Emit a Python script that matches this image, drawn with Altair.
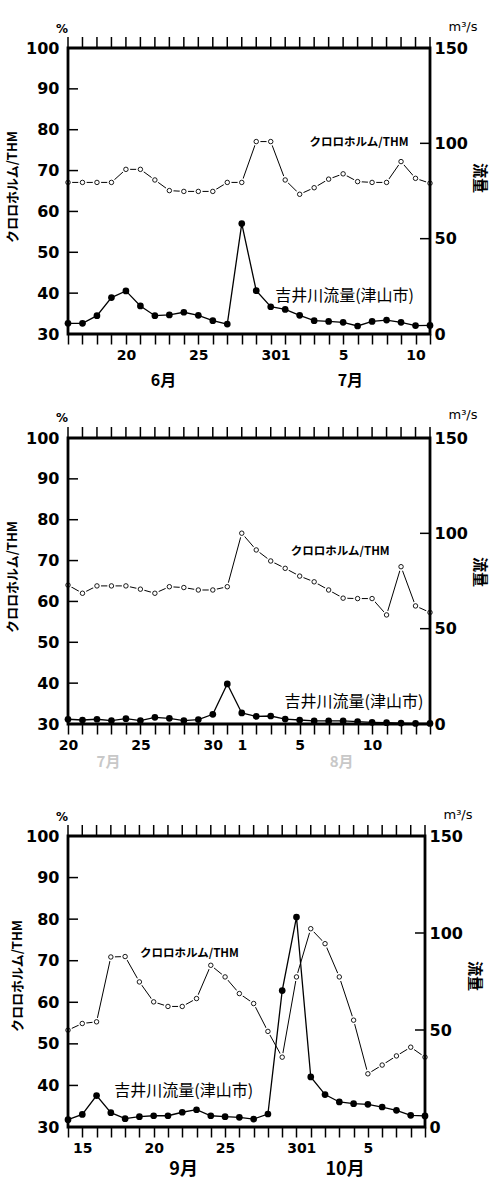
import altair as alt
import pandas as pd

# ---------------- data ----------------
# Panel 1 : 6/16 - 7/11
P1_TICKS = ["", "", "", "", "20", "", "", "", "", "25", "", "", "", "", "30", "1",
            "", "", "", "5", "", "", "", "", "10", ""]
P1_THM = [67.1, 67.1, 67.1, 67.1, 70.3, 70.3, 67.7, 65.1, 64.9, 64.9, 64.9, 67.1, 67.1,
          77.1, 77.1, 67.7, 64.2, 65.8, 67.9, 69.2, 67.3, 67.1, 67.1, 72.2, 68.1, 66.9]
P1_FLOW = [5.6, 5.6, 9.6, 19.1, 22.6, 14.7, 9.6, 10.0, 11.4, 9.8, 7.0, 5.2, 57.9,
           22.7, 14.3, 12.9, 9.8, 7.0, 6.6, 6.1, 4.2, 6.6, 7.3, 6.1, 4.4, 4.5]
P1_MONTHS = ["6月", "7月"]

# Panel 2 : 7/20 - 8/14
P2_TICKS = ["20", "", "", "", "", "25", "", "", "", "", "30", "", "1", "", "", "",
            "5", "", "", "", "", "10", "", "", "", ""]
P2_THM = [64.0, 62.0, 63.8, 63.8, 63.8, 63.0, 62.0, 63.6, 63.4, 62.8, 62.8, 63.6, 76.7,
          72.6, 69.9, 68.1, 66.2, 64.8, 62.8, 60.8, 60.7, 60.7, 56.7, 68.5, 58.9, 57.3]
P2_FLOW = [2.5, 2.1, 2.5, 1.8, 2.8, 1.8, 3.5, 3.0, 1.8, 2.3, 5.1, 21.0, 5.8,
           4.0, 4.2, 2.6, 2.1, 1.6, 1.6, 1.6, 1.2, 0.9, 0.7, 0.5, 0.3, 0.3]
P2_MONTHS = ["7月", "8月"]

# Panel 3 : 9/14 - 10/9
P3_TICKS = ["", "15", "", "", "", "", "20", "", "", "", "", "25", "", "", "", "",
            "30", "1", "", "", "", "5", "", "", "", ""]
P3_THM = [53.3, 54.9, 55.3, 70.9, 71.0, 64.9, 60.1, 59.0, 59.0, 60.9, 68.9, 66.1, 62.1,
          59.7, 53.0, 46.8, 66.1, 77.7, 74.1, 66.1, 55.7, 42.8, 44.9, 47.1, 49.2, 46.8]
P3_FLOW = [3.8, 6.5, 16.2, 7.4, 4.3, 5.3, 5.8, 5.8, 7.6, 8.9, 5.8, 5.3, 5.0,
           4.1, 6.7, 70.3, 108.2, 25.8, 16.7, 12.9, 12.0, 11.7, 10.3, 8.6, 6.0, 5.7]
P3_MONTHS = ["9月", "10月"]

LEFT_TICKS = [30, 40, 50, 60, 70, 80, 90, 100]
RIGHT_TICKS = [0, 50, 100, 150]
THM_NAME = "クロロホルム/THM"
FLOW_NAME = "吉井川流量(津山市)"
LEFT_TITLE = "クロロホルム/THM"
RIGHT_TITLE = "流量"

NUM_FONT = "DejaVu Sans"
JP_FONT = "Noto Sans CJK JP"


def one(**kw):
    return pd.DataFrame({k: [v] for k, v in kw.items()})


def panel(thm, flow, ticks, months, W, H, cfg, anchor=False):
    n = len(thm)
    idx = list(range(n))
    df = pd.DataFrame({"i": idx, "thm": thm, "flow": flow})
    expr = " : ".join(f"datum.value == {k} ? '{v}'" for k, v in enumerate(ticks) if v) + " : ''"
    x = alt.X("i:Q", scale=alt.Scale(domain=[0, n - 1], nice=False, zero=False),
              axis=alt.Axis(values=idx, labelExpr=expr, tickSize=10, tickWidth=1.5,
                            tickColor="black", domain=False, grid=False,
                            labelFont=NUM_FONT, labelFontWeight="bold", labelFontSize=14,
                            labelColor="black", labelPadding=4, labelOverlap=False,
                            labelFlush=False, title=None))
    yL = alt.Y("thm:Q", scale=alt.Scale(domain=[30, 100], nice=False, zero=False),
               axis=alt.Axis(values=LEFT_TICKS, ticks=False, domain=False, grid=False,
                             labelFont=NUM_FONT, labelFontWeight="bold", labelFontSize=16,
                             labelColor="black", labelPadding=9, labelFlush=False,
                             orient="left", title=None))
    yR = alt.Y("flow:Q", scale=alt.Scale(domain=[0, 150], nice=False, zero=False),
               axis=alt.Axis(values=RIGHT_TICKS, ticks=False, domain=False, grid=False,
                             labelFont=NUM_FONT, labelFontWeight="bold", labelFontSize=16,
                             labelColor="black", labelPadding=4, labelFlush=False,
                             orient="right", title=None))

    base = alt.Chart(df)
    left_layers = [
        base.mark_line(color="black", strokeWidth=1).encode(x=x, y=yL),
        base.mark_point(shape="circle", filled=True, color="white", size=70, opacity=1).encode(x=x, y=yL),
        base.mark_point(shape="circle", filled=True, fill="white", stroke="black",
                        strokeWidth=0.9, size=20, opacity=1).encode(x=x, y=yL),
        alt.Chart(one(i=cfg["thm_lab"][0], thm=cfg["thm_lab"][1], t=THM_NAME)).mark_text(
            font=JP_FONT, fontSize=11.5, fontWeight="bold", color="black").encode(x=x, y=yL, text="t:N"),
        alt.Chart(pd.DataFrame({"thm": LEFT_TICKS[1:-1]})).mark_rule(color="black", strokeWidth=1.5).encode(
            y=yL, x=alt.value(0), x2=alt.value(10)),
        alt.Chart(pd.DataFrame({"i": idx})).mark_rule(color="black", strokeWidth=1.5).encode(
            x=x, y=alt.value(-11), y2=alt.value(0)),
        alt.Chart(pd.DataFrame({"i": cfg["month_i"], "t": months})).mark_text(
            font=JP_FONT, fontSize=cfg["month_size"], fontWeight="bold",
            color=cfg["month_color"]).encode(x=x, y=alt.value(H + cfg["month_dy"]), text="t:N"),
        alt.Chart(one(t="%")).mark_text(font=NUM_FONT, fontSize=12, fontWeight="bold", color="black").encode(
            x=alt.value(-6), y=alt.value(cfg["pct_dy"]), text="t:N"),
        alt.Chart(one(t=LEFT_TITLE)).mark_text(font=JP_FONT, fontSize=13, fontWeight="bold", angle=270,
                                               baseline="middle", color="black").encode(
            x=alt.value(cfg["ltitle_dx"]), y=alt.value(cfg["ltitle_y"]), text="t:N"),
        alt.Chart(one(a=0)).mark_rect(fillOpacity=0, stroke="black", strokeWidth=2.8).encode(
            x=alt.value(0), x2=alt.value(W), y=alt.value(0), y2=alt.value(H)),
    ]
    if anchor:
        # invisible corner markers fixing the canvas extent (top-left and top-right)
        left_layers.append(alt.Chart(one(a=0)).mark_rect(color="white").encode(
            x=alt.value(-68), x2=alt.value(-67), y=alt.value(-48), y2=alt.value(-47)))
        left_layers.append(alt.Chart(one(a=0)).mark_rect(color="white").encode(
            x=alt.value(W + 61), x2=alt.value(W + 62), y=alt.value(-48), y2=alt.value(-47)))
    right_layers = [
        base.mark_line(color="black", strokeWidth=1.3).encode(x=x, y=yR),
        base.mark_point(shape="circle", filled=True, color="black", size=45, opacity=1).encode(x=x, y=yR),
        alt.Chart(one(i=cfg["flow_lab"][0], flow=cfg["flow_lab"][1], t=FLOW_NAME)).mark_text(
            font=JP_FONT, fontSize=16, color="black").encode(x=x, y=yR, text="t:N"),
        alt.Chart(pd.DataFrame({"flow": [50, 100]})).mark_rule(color="black", strokeWidth=1.5).encode(
            y=yR, x=alt.value(W - 10), x2=alt.value(W)),
        alt.Chart(one(t="m³/s")).mark_text(font=NUM_FONT, fontSize=13, color="black").encode(
            x=alt.value(W + 33), y=alt.value(cfg["unit_dy"]), text="t:N"),
        alt.Chart(one(t=RIGHT_TITLE)).mark_text(font=JP_FONT, fontSize=15, fontWeight="bold", angle=90,
                                                baseline="middle", color="black").encode(
            x=alt.value(W + cfg["rtitle_dx"]), y=alt.value(cfg["rtitle_y"]), text="t:N"),
    ]
    left = alt.layer(*left_layers)
    right = alt.layer(*right_layers)
    return alt.layer(left, right).resolve_scale(y="independent").properties(width=W, height=H)


def spacer(W, h):
    return alt.Chart(one(a=0)).mark_rect(opacity=0).encode(
        x=alt.value(0), y=alt.value(0)).properties(width=W, height=h)


p1 = panel(P1_THM, P1_FLOW, P1_TICKS, P1_MONTHS, 362, 286, dict(
    thm_lab=(20.1, 76.8), flow_lab=(19.1, 19.9), month_i=[6.6, 19.5], month_dy=47,
    month_size=16, month_color="black", pct_dy=-19, unit_dy=-21, ltitle_dx=-55,
    ltitle_y=139, rtitle_dx=50, rtitle_y=130), anchor=True)
p2 = panel(P2_THM, P2_FLOW, P2_TICKS, P2_MONTHS, 362, 286, dict(
    thm_lab=(18.8, 72.1), flow_lab=(19.75, 11.5), month_i=[2.8, 18.9], month_dy=38,
    month_size=15, month_color="#c8c8c8", pct_dy=-20, unit_dy=-23, ltitle_dx=-55,
    ltitle_y=139, rtitle_dx=50, rtitle_y=134))
p3 = panel(P3_THM, P3_FLOW, P3_TICKS, P3_MONTHS, 357, 291, dict(
    thm_lab=(8.5, 71.6), flow_lab=(8.1, 18.6), month_i=[8.1, 19.4], month_dy=43,
    month_size=18, month_color="black", pct_dy=-19, unit_dy=-21, ltitle_dx=-50,
    ltitle_y=140, rtitle_dx=50, rtitle_y=140))

chart = alt.vconcat(p1, spacer(362, 104), p2, spacer(362, 112), p3,
                    spacing=0, bounds="flush").properties(
    padding=0, background="white"
).configure_view(stroke=None)

chart.save("out.html", embed_options={"renderer": "svg", "actions": False})
